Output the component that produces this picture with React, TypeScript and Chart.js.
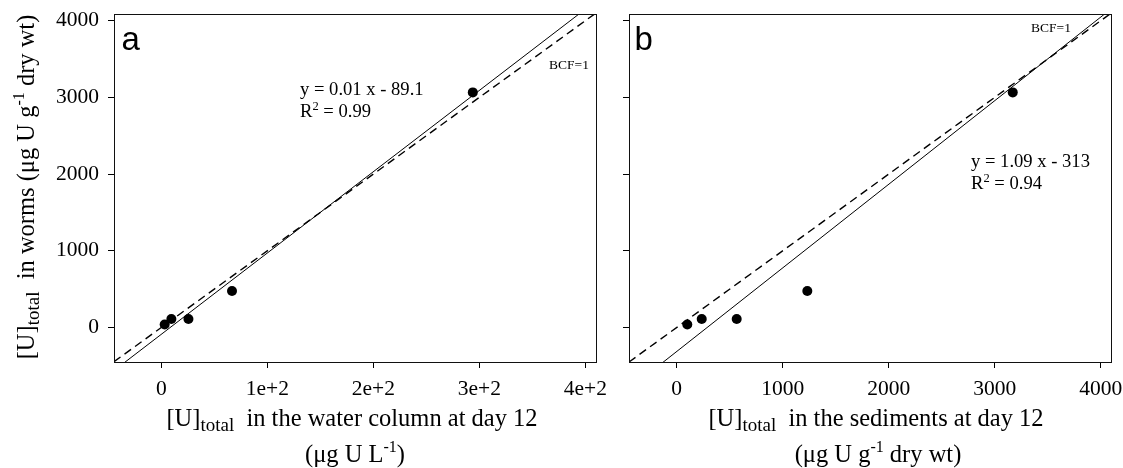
import { useEffect, useRef } from 'react';
import { Chart, registerables } from 'chart.js';
Chart.register(...registerables);

// ---- data ----
const WORMS_U = [40, 110, 110, 475, 3065];
const WATER_U = [3.2, 9.5, 25.6, 66.7, 293.8];
const SEDIMENT_U = [100, 236, 566, 1232, 3170];
const Y_TICKS = [0, 1000, 2000, 3000, 4000];
const X_TICKS_A = [0, 100, 200, 300, 400];
const X_TICK_LABELS_A = ['0', '1e+2', '2e+2', '3e+2', '4e+2'];
const X_TICKS_B = [0, 1000, 2000, 3000, 4000];
const X_TICK_LABELS_B = ['0', '1000', '2000', '3000', '4000'];
const FIT_A = [10.6, -89.1]; // slope, intercept (axis units of panel a)
const FIT_B = [1.09, -313];
const BCF_A = 10; // BCF=1 line slope in panel a axis units
const BCF_B = 1;
const Y_RANGE = [-450, 4087];
const X_RANGE_A = [-44.6, 410];
const X_RANGE_B = [-450, 4094];

const SERIF = '"Liberation Serif", "Times New Roman", serif';
const SANS = '"Liberation Sans", Arial, sans-serif';

type Seg = { t: string; size: number; dy?: number; fam?: string };
type TextItem = { segs: Seg[]; x: number; y: number; align: 'left' | 'center'; rotate?: boolean };

function drawRich(ctx: CanvasRenderingContext2D, item: TextItem) {
  ctx.save();
  ctx.fillStyle = '#000';
  ctx.textBaseline = 'alphabetic';
  ctx.textAlign = 'left';
  let total = 0;
  const widths = item.segs.map((s) => {
    ctx.font = `${s.size}px ${s.fam || SERIF}`;
    const w = ctx.measureText(s.t).width;
    total += w;
    return w;
  });
  ctx.translate(item.x, item.y);
  if (item.rotate) ctx.rotate(-Math.PI / 2);
  let cx = item.align === 'center' ? -total / 2 : 0;
  item.segs.forEach((s, i) => {
    ctx.font = `${s.size}px ${s.fam || SERIF}`;
    ctx.fillText(s.t, cx, s.dy || 0);
    cx += widths[i];
  });
  ctx.restore();
}

const framePlugin = {
  id: 'frameText',
  afterDraw(chart: any, _args: any, opts: any) {
    const { ctx, chartArea: a } = chart;
    ctx.save();
    ctx.strokeStyle = '#111';
    ctx.lineWidth = 1;
    ctx.strokeRect(Math.round(a.left) + 0.5, Math.round(a.top) + 0.5, Math.round(a.right - a.left), Math.round(a.bottom - a.top));
    ctx.restore();
    (opts.texts || []).forEach((t: TextItem) => drawRich(ctx, t));
  },
};

type PanelCfg = {
  xs: number[];
  ys: number[];
  fit: number[];
  bcf: number;
  xRange: number[];
  xTicks: number[];
  xLabels: string[];
  showYLabels: boolean;
  yAxisWidth: number;
  padRight: number;
  texts: TextItem[];
};

function buildConfig(p: PanelCfg): any {
  const [x0, x1] = p.xRange;
  const line = (m: number, b: number) => [
    { x: x0, y: m * x0 + b },
    { x: x1, y: m * x1 + b },
  ];
  const fixPad = (s: any) => {
    s.paddingLeft = 0;
    s.paddingRight = 0;
    s.paddingTop = 0;
    s.paddingBottom = 0;
  };
  return {
    type: 'scatter',
    data: {
      datasets: [
        {
          data: p.xs.map((x, i) => ({ x, y: p.ys[i] })),
          pointRadius: 5,
          pointBackgroundColor: '#000',
          pointBorderWidth: 0,
          showLine: false,
        },
        {
          data: line(p.fit[0], p.fit[1]),
          showLine: true,
          borderColor: '#000',
          borderWidth: 1,
          pointRadius: 0,
        },
        {
          data: line(p.bcf, 0),
          showLine: true,
          borderColor: '#000',
          borderWidth: 1.4,
          borderDash: [8, 5],
          pointRadius: 0,
        },
      ],
    },
    options: {
      animation: false,
      responsive: false,
      devicePixelRatio: 1,
      layout: { padding: { left: 0, top: 14, right: p.padRight, bottom: 0 } },
      plugins: {
        legend: { display: false },
        tooltip: { enabled: false },
        frameText: { texts: p.texts },
      },
      scales: {
        x: {
          type: 'linear',
          min: x0,
          max: x1,
          afterBuildTicks: (s: any) => {
            s.ticks = p.xTicks.map((v) => ({ value: v }));
          },
          afterFit: (s: any) => {
            s.height = 106;
            fixPad(s);
          },
          grid: { drawOnChartArea: false, drawTicks: true, tickLength: 6, color: '#000' },
          border: { display: true, color: '#000' },
          ticks: {
            autoSkip: false,
            maxRotation: 0,
            padding: 8,
            color: '#000',
            font: { family: SERIF, size: 21.5 },
            callback: (_v: any, i: number) => p.xLabels[i],
          },
        },
        y: {
          type: 'linear',
          min: Y_RANGE[0],
          max: Y_RANGE[1],
          afterBuildTicks: (s: any) => {
            s.ticks = Y_TICKS.map((v) => ({ value: v }));
          },
          afterFit: (s: any) => {
            s.width = p.yAxisWidth;
            fixPad(s);
          },
          grid: { drawOnChartArea: false, drawTicks: true, tickLength: 6, color: '#000' },
          border: { display: true, color: '#000' },
          ticks: {
            autoSkip: false,
            padding: 9,
            color: '#000',
            font: { family: SERIF, size: 21.5 },
            callback: (v: any) => (p.showYLabels ? String(v) : ''),
          },
        },
      },
    },
    plugins: [framePlugin],
  };
}

const OFF_B = 615;
const MAIN = 24.5;
const SUB = 19;
const SUP = 16;
const EQ = 18.6;

const TEXTS_A: TextItem[] = [
  { segs: [{ t: 'a', size: 33, fam: SANS }], x: 121.5, y: 50, align: 'left' },
  { segs: [{ t: 'y = 0.01 x - 89.1', size: EQ }], x: 300, y: 95, align: 'left' },
  { segs: [{ t: 'R', size: EQ }, { t: '2', size: 12.5, dy: -7.5 }, { t: ' = 0.99', size: EQ }], x: 300, y: 117, align: 'left' },
  { segs: [{ t: 'BCF=1', size: 13.5 }], x: 549, y: 68.5, align: 'left' },
  {
    segs: [{ t: '[U]', size: MAIN }, { t: 'total', size: SUB, dy: 5 }, { t: '  in the water column at day 12', size: MAIN }],
    x: 352, y: 426, align: 'center',
  },
  {
    segs: [{ t: '(μg U L', size: MAIN }, { t: '-1', size: SUP, dy: -10 }, { t: ')', size: MAIN }],
    x: 355, y: 462, align: 'center',
  },
  {
    segs: [
      { t: '[U]', size: MAIN },
      { t: 'total', size: SUB, dy: 5 },
      { t: '  in worms (μg U g', size: MAIN },
      { t: '-1', size: SUP, dy: -10 },
      { t: ' dry wt)', size: MAIN },
    ],
    x: 33.5, y: 187, align: 'center', rotate: true,
  },
];

const TEXTS_B: TextItem[] = [
  { segs: [{ t: 'b', size: 33, fam: SANS }], x: 634.5 - OFF_B, y: 50, align: 'left' },
  { segs: [{ t: 'BCF=1', size: 13.5 }], x: 1031 - OFF_B, y: 32, align: 'left' },
  { segs: [{ t: 'y = 1.09 x - 313', size: EQ }], x: 971 - OFF_B, y: 167, align: 'left' },
  { segs: [{ t: 'R', size: EQ }, { t: '2', size: 12.5, dy: -7.5 }, { t: ' = 0.94', size: EQ }], x: 971 - OFF_B, y: 189, align: 'left' },
  {
    segs: [{ t: '[U]', size: MAIN }, { t: 'total', size: SUB, dy: 5 }, { t: '  in the sediments at day 12', size: MAIN }],
    x: 876 - OFF_B, y: 426, align: 'center',
  },
  {
    segs: [{ t: '(μg U g', size: MAIN }, { t: '-1', size: SUP, dy: -10 }, { t: ' dry wt)', size: MAIN }],
    x: 878 - OFF_B, y: 462, align: 'center',
  },
];

function Panel({ cfg, left, width }: { cfg: PanelCfg; left: number; width: number }) {
  const ref = useRef<HTMLCanvasElement | null>(null);
  useEffect(() => {
    if (!ref.current) return;
    const chart = new Chart(ref.current, buildConfig(cfg));
    return () => chart.destroy();
  }, [cfg]);
  return (
    <canvas
      ref={ref}
      width={width}
      height={468}
      style={{ position: 'absolute', left, top: 0, width, height: 468 }}
    />
  );
}

const PANEL_A: PanelCfg = {
  xs: WATER_U,
  ys: WORMS_U,
  fit: FIT_A,
  bcf: BCF_A,
  xRange: X_RANGE_A,
  xTicks: X_TICKS_A,
  xLabels: X_TICK_LABELS_A,
  showYLabels: true,
  yAxisWidth: 114,
  padRight: 615 - 596,
  texts: TEXTS_A,
};

const PANEL_B: PanelCfg = {
  xs: SEDIMENT_U,
  ys: WORMS_U,
  fit: FIT_B,
  bcf: BCF_B,
  xRange: X_RANGE_B,
  xTicks: X_TICKS_B,
  xLabels: X_TICK_LABELS_B,
  showYLabels: false,
  yAxisWidth: 629 - OFF_B,
  padRight: 1123 - OFF_B - (1110.7 - OFF_B),
  texts: TEXTS_B,
};

export default function App() {
  return (
    <div style={{ position: 'fixed', left: 0, top: 0, width: 1123, height: 468, background: '#fff' }}>
      <Panel cfg={PANEL_A} left={0} width={OFF_B} />
      <Panel cfg={PANEL_B} left={OFF_B} width={1123 - OFF_B} />
    </div>
  );
}
